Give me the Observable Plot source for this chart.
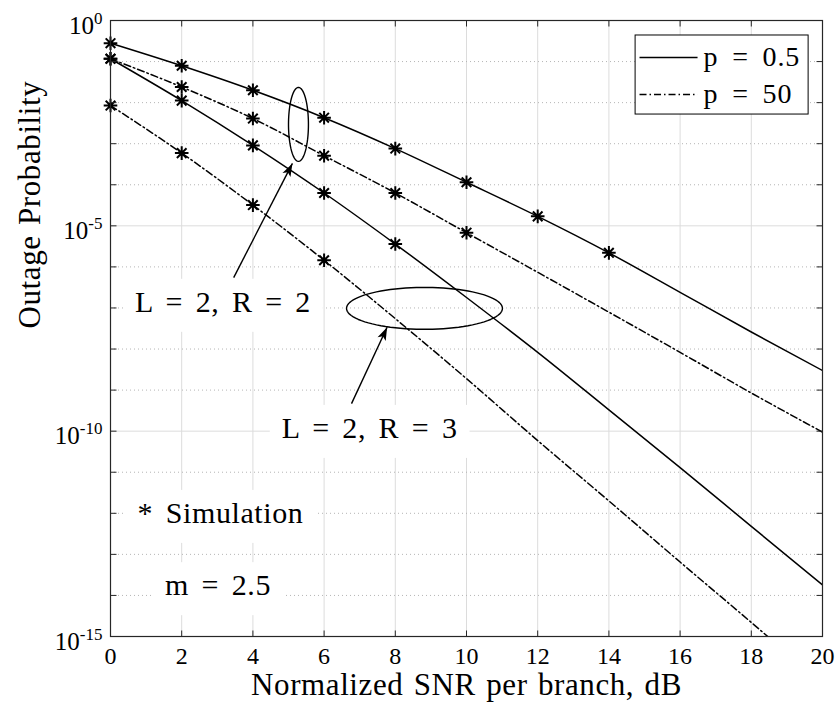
<!DOCTYPE html>
<html><head><meta charset="utf-8">
<script src="https://cdn.jsdelivr.net/npm/d3@7"></script>
<script src="https://cdn.jsdelivr.net/npm/@observablehq/plot@0.6"></script>
<style>
body{margin:0;background:#fff}
svg text{font-family:"Liberation Serif",serif}
</style>
</head><body><div id="chart"></div>
<script>
// ---------- data ----------
const snr = [0, 2, 4, 6, 8, 10, 12, 14, 16, 18, 20];               // Normalized SNR per branch, dB
// Outage probability, analytic curves
const pout_p05_R2 = [2.8e-1, 7.9e-2, 2.0e-2, 4.3e-3, 7.6e-4, 1.15e-4, 1.7e-5, 2.2e-6, 2.4e-7, 2.6e-8, 3.0e-9];
const pout_p50_R2 = [1.17e-1, 2.4e-2, 4.1e-3, 5.1e-4, 6.3e-5, 6.8e-6, 7.4e-7, 7.9e-8, 8.3e-9, 8.5e-10, 9.5e-11];
const pout_p05_R3 = [1.17e-1, 1.12e-2, 9.1e-4, 6.3e-5, 3.6e-6, 1.8e-7, 8.3e-9, 3.3e-10, 1.3e-11, 4.8e-13, 1.8e-14];
const pout_p50_R3 = [8.5e-3, 5.9e-4, 3.2e-5, 1.45e-6, 5.5e-8, 1.9e-9, 5.9e-11, 2.0e-12, 6.5e-14, 2.2e-15, 7.1e-17];
// Simulation points (SNR values that carry a "*" marker)
const sim_p05_R2 = [0, 2, 4, 6, 8, 10, 12, 14];
const sim_p50_R2 = [0, 2, 4, 6, 8, 10];
const sim_p05_R3 = [0, 2, 4, 6, 8];
const sim_p50_R3 = [0, 2, 4, 6];
// axis ticks
const xTicks = [0, 2, 4, 6, 8, 10, 12, 14, 16, 18, 20];
const yLabelTicks = [1e0, 1e-5, 1e-10, 1e-15];
const yDecades = [1e0,1e-1,1e-2,1e-3,1e-4,1e-5,1e-6,1e-7,1e-8,1e-9,1e-10,1e-11,1e-12,1e-13,1e-14,1e-15];
const legendLabels = ["p = 0.5", "p = 50"];
const xTitle = "Normalized SNR per branch, dB";
const yTitle = "Outage Probability";

// ---------- layout / styles ----------
const FONT = '"Liberation Serif", serif';
const DASHDOT = "7,3,1.5,3";
const series = [
  {key: "p05_R2", p: legendLabels[0], values: pout_p05_R2, sim: sim_p05_R2},
  {key: "p50_R2", p: legendLabels[1], values: pout_p50_R2, sim: sim_p50_R2},
  {key: "p05_R3", p: legendLabels[0], values: pout_p05_R3, sim: sim_p05_R3},
  {key: "p50_R3", p: legendLabels[1], values: pout_p50_R3, sim: sim_p50_R3}
];
const curveRows = series.flatMap(s => snr.map((x, i) => ({key: s.key, p: s.p, snr: x, pout: s.values[i]})));
const simRows = series.flatMap(s => s.sim.map(x => ({key: s.key, snr: x, pout: s.values[snr.indexOf(x)]})));

// annotation positions in (dB, log10 P) space
const annoTexts = [
  {label: "L = 2, R = 2", x: 3.16, e: -6.86},
  {label: "L = 2, R = 3", x: 7.28, e: -9.93},
  {label: "* Simulation", x: 3.09, e: -12.0},
  {label: "m = 2.5", x: 3.02, e: -13.76}
];
const ellipses = [
  {id: 1, cx: 5.28, ce: -2.53, rx: 0.28, re: 0.9},
  {id: 2, cx: 8.82, ce: -7.01, rx: 2.19, re: 0.51}
];
const arrows = [
  {x1: 3.46, e1: -6.26, x2: 5.11, e2: -3.48},
  {x1: 6.77, e1: -9.33, x2: 7.77, e2: -7.47}
];
const legendBox = [{x1: 14.75, x2: 19.61, e1: -0.365, e2: -2.29}];
const legendRows = [
  {label: legendLabels[0], e: -0.90, dash: null},
  {label: legendLabels[1], e: -1.80, dash: DASHDOT}
];
const legendLine = {x1: 14.86, x2: 16.49, xt: 16.66};

const ellipsePts = ellipses.flatMap(el => d3.range(0, 90).map(k => {
  const t = k / 90 * 2 * Math.PI;
  return {id: el.id, x: el.cx + el.rx * Math.cos(t), y: 10 ** (el.ce + el.re * Math.sin(t))};
}));

// custom symbols
const asterisk = {draw(ctx, size) {
  const r = Math.sqrt(size / Math.PI), d = r * Math.SQRT1_2;
  ctx.moveTo(-r, 0); ctx.lineTo(r, 0);
  ctx.moveTo(0, -r); ctx.lineTo(0, r);
  ctx.moveTo(-d, -d); ctx.lineTo(d, d);
  ctx.moveTo(-d, d); ctx.lineTo(d, -d);
}};
const tickSym = (dx, dy) => ({draw(ctx, size) {
  const l = Math.sqrt(size / Math.PI);
  ctx.moveTo(0, 0); ctx.lineTo(dx * l, dy * l);
}});

const solid = curveRows.filter(d => d.p === legendLabels[0]);
const dashed = curveRows.filter(d => d.p === legendLabels[1]);

const plot = Plot.plot({
  width: 838, height: 708,
  marginLeft: 110, marginRight: 16, marginTop: 20, marginBottom: 72,
  style: {fontFamily: FONT, fontSize: "20px", background: "white", color: "black"},
  x: {type: "linear", domain: [0, 20]},
  y: {type: "log", domain: [1e-15, 1]},
  marks: [
    // grid
    Plot.ruleX(xTicks, {stroke: "#dcdcdc", strokeWidth: 1}),
    Plot.ruleY(yDecades.filter(d => !yLabelTicks.includes(d)), {stroke: "#b5b5b5", strokeWidth: 1, strokeDasharray: "1,3"}),
    Plot.ruleY(yLabelTicks, {stroke: "#dcdcdc", strokeWidth: 1}),
    // annotation texts (white boxes inserted afterwards)
    Plot.text(annoTexts, {x: "x", y: d => 10 ** d.e, text: "label", fontSize: 30, fontFamily: FONT}),
    // curves
    Plot.line(solid, {x: "snr", y: "pout", z: "key", curve: "monotone-x", stroke: "black", strokeWidth: 1.5, clip: true}),
    Plot.line(dashed, {x: "snr", y: "pout", z: "key", curve: "monotone-x", stroke: "black", strokeWidth: 1.5, strokeDasharray: DASHDOT, clip: true}),
    // simulation markers
    Plot.dot(simRows, {x: "snr", y: "pout", symbol: asterisk, r: 6.8, fill: "none", stroke: "black", strokeWidth: 2}),
    // ellipses & arrows
    Plot.line(ellipsePts, {x: "x", y: "y", z: "id", curve: "linear-closed", stroke: "black", strokeWidth: 1.4}),
    Plot.link(arrows, {x1: "x1", y1: d => 10 ** d.e1, x2: "x2", y2: d => 10 ** d.e2, stroke: "black", strokeWidth: 1.4, ariaDescription: "annotation-arrow"}),
    // legend
    Plot.rect(legendBox, {x1: "x1", x2: "x2", y1: d => 10 ** d.e1, y2: d => 10 ** d.e2, fill: "white", stroke: "black", strokeWidth: 1}),
    Plot.link(legendRows.filter(d => !d.dash), {x1: () => legendLine.x1, x2: () => legendLine.x2, y1: d => 10 ** d.e, y2: d => 10 ** d.e, stroke: "black", strokeWidth: 1.5}),
    Plot.link(legendRows.filter(d => d.dash), {x1: () => legendLine.x1, x2: () => legendLine.x2, y1: d => 10 ** d.e, y2: d => 10 ** d.e, stroke: "black", strokeWidth: 1.5, strokeDasharray: DASHDOT}),
    Plot.text(legendRows, {x: () => legendLine.xt, y: d => 10 ** d.e, text: "label", textAnchor: "start", fontSize: 28, fontFamily: FONT}),
    // inward ticks on all four sides
    Plot.dot(xTicks, {x: d => d, frameAnchor: "bottom", symbol: tickSym(0, -1), r: 6, fill: "none", stroke: "#262626", strokeWidth: 1}),
    Plot.dot(xTicks, {x: d => d, frameAnchor: "top", symbol: tickSym(0, 1), r: 6, fill: "none", stroke: "#262626", strokeWidth: 1}),
    Plot.dot(yDecades, {y: d => d, frameAnchor: "left", symbol: tickSym(1, 0), r: 6, fill: "none", stroke: "#262626", strokeWidth: 1}),
    Plot.dot(yDecades, {y: d => d, frameAnchor: "right", symbol: tickSym(-1, 0), r: 6, fill: "none", stroke: "#262626", strokeWidth: 1}),
    // frame
    Plot.frame({stroke: "#262626", strokeWidth: 1.2}),
    // axes tick labels
    Plot.axisX(xTicks, {tickSize: 0, tickPadding: 10, fontSize: 24, fontFamily: FONT, label: null}),
    Plot.axisY(yLabelTicks, {tickSize: 0, tickPadding: 8, fontSize: 25, fontFamily: FONT, dy: 5, label: null,
      tickFormat: d => "10^" + Math.round(Math.log10(d))}),
    // axis titles
    Plot.text([xTitle], {text: d => d, frameAnchor: "bottom", lineAnchor: "middle", dy: 49, fontSize: 31, fontFamily: FONT}),
    Plot.text([yTitle], {text: d => d, frameAnchor: "left", lineAnchor: "middle", dx: -80, rotate: -90, fontSize: 31, fontFamily: FONT})
  ]
});

document.getElementById("chart").append(plot);

// ---------- post-processing ----------
const NS = "http://www.w3.org/2000/svg";
const allTexts = Array.from(plot.querySelectorAll("text"));
const spacing = (labels, ls, ws) => allTexts.filter(t => labels.includes(t.textContent)).map(t => {
  t.style.letterSpacing = ls + "px"; t.style.wordSpacing = ws + "px"; return t;
});
const annoEls = spacing(annoTexts.map(d => d.label), 0.6, 4.5);
spacing(legendLabels, 0.8, 6);
spacing([xTitle, yTitle], 0.6, 2);

// superscript exponents on y tick labels
allTexts.filter(t => /^10\^-?\d+$/.test(t.textContent)).forEach(t => {
  const [b, e] = t.textContent.split("^");
  t.textContent = "";
  const base = document.createElementNS(NS, "tspan"); base.textContent = b;
  const sup = document.createElementNS(NS, "tspan"); sup.textContent = e;
  sup.setAttribute("dy", "-10"); sup.setAttribute("font-size", "17");
  t.append(base, sup);
});
// white boxes behind annotation texts
annoEls.forEach(t => {
  const bb = t.getBBox();
  const r = document.createElementNS(NS, "rect");
  const tr = t.getAttribute("transform");
  if (tr) r.setAttribute("transform", tr);
  r.setAttribute("x", bb.x - 12); r.setAttribute("y", bb.y - 6);
  r.setAttribute("width", bb.width + 24); r.setAttribute("height", bb.height + 20);
  r.setAttribute("fill", "white");
  t.parentNode.insertBefore(r, t);
});
// filled arrowheads at the end of each annotation arrow
let arrowG = plot.querySelector('g[aria-description="annotation-arrow"]');
if (!arrowG) arrowG = plot.querySelector('g[aria-label="link"]');
Array.from(arrowG.querySelectorAll("path")).forEach(p => {
  const L = p.getTotalLength();
  const a = p.getPointAtLength(0), b = p.getPointAtLength(L);
  const ux = (b.x - a.x) / L, uy = (b.y - a.y) / L, nx = -uy, ny = ux;
  const len = 13, half = 4.5, notch = 3;
  const pts = [
    [b.x, b.y],
    [b.x - ux * len + nx * half, b.y - uy * len + ny * half],
    [b.x - ux * (len - notch), b.y - uy * (len - notch)],
    [b.x - ux * len - nx * half, b.y - uy * len - ny * half]
  ];
  const head = document.createElementNS(NS, "path");
  head.setAttribute("d", "M" + pts.map(q => q.join(",")).join("L") + "Z");
  head.setAttribute("fill", "black");
  head.setAttribute("stroke", "none");
  arrowG.appendChild(head);
});
</script>
</body></html>
